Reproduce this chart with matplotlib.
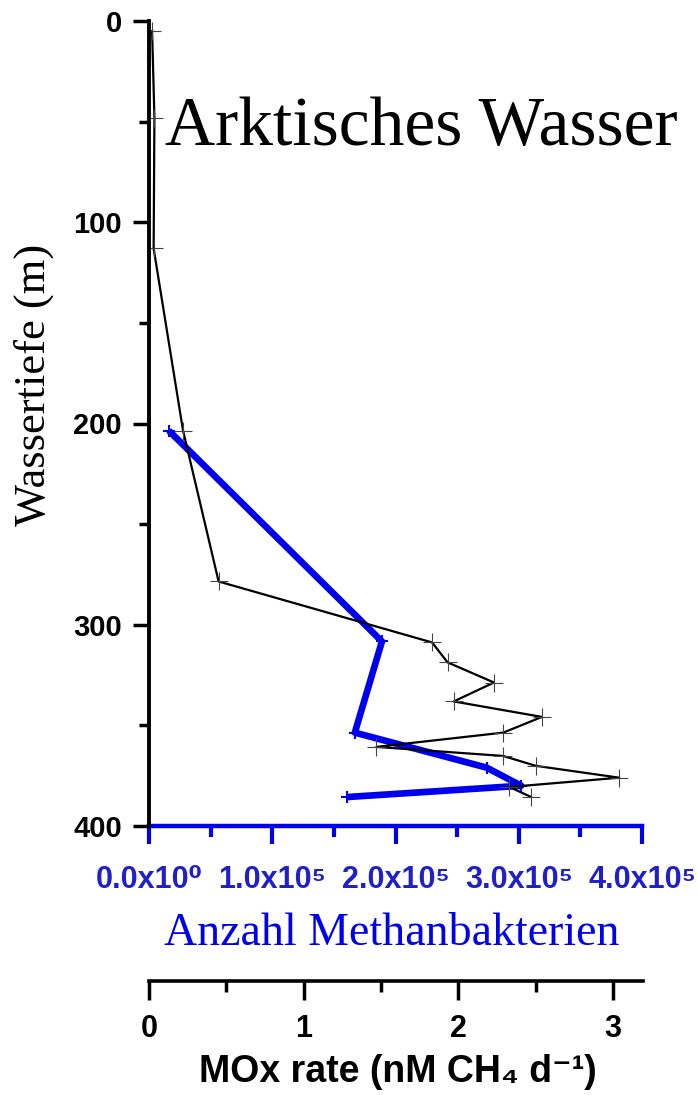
import matplotlib
matplotlib.use("Agg")
import matplotlib.pyplot as plt
from matplotlib.ticker import FixedLocator

plt.rcParams['font.family'] = ['Liberation Sans', 'DejaVu Sans']

# MOx rate profile (black)
mox_depth = [5, 48, 113, 203.5, 278.5, 308.8, 318.7, 328.7, 338.1, 345.8,
             353.6, 360.7, 365.2, 370.1, 376.0, 380.6, 385.6]
mox_rate = [0.02, 0.035, 0.03, 0.22, 0.45, 1.83, 1.93, 2.23, 1.97, 2.54,
            2.29, 1.47, 2.29, 2.50, 3.04, 2.33, 2.47]

# methanotroph counts (blue)
bac_depth = [203.5, 308.3, 353.6, 371.0, 380.0, 385.6]
bac_count = [0.16e5, 1.89e5, 1.67e5, 2.74e5, 3.02e5, 1.61e5]

depth_ticks = [0, 100, 200, 300, 400]
bac_ticks = [0, 1e5, 2e5, 3e5, 4e5]
bac_labels = ['0.0x10\u2070', '1.0x10\u2075', '2.0x10\u2075', '3.0x10\u2075', '4.0x10\u2075']
mox_ticks = [0, 1, 2, 3]

W, H = 697, 1095
fig = plt.figure(figsize=(W / 100, H / 100), dpi=100)
ax = fig.add_axes([149 / W, 269 / H, 494 / W, 805 / H])
ax2 = ax.twiny()

# black MOx curve on top
ax.set_zorder(2)
ax2.set_zorder(1)
ax.patch.set_visible(False)

ax.plot(mox_rate, mox_depth, color='black', lw=1.6, marker='+', ms=13,
        mew=0.8, mec='#444444')
ax2.plot(bac_count, bac_depth, color='#0000ee', lw=4.8, marker='+', ms=9,
         mew=1.5, solid_capstyle='butt')

ax.set_ylim(400, 0)
ax.set_xlim(0, 494 / 154.7)
ax2.set_xlim(0, 4.0e5 * 494 / 493)

for s in ['top', 'right']:
    ax.spines[s].set_visible(False)
for s in ['top', 'right', 'left']:
    ax2.spines[s].set_visible(False)

ax.spines['left'].set_linewidth(2.8)
ax.spines['bottom'].set_linewidth(2.6)
ax.spines['bottom'].set_position(('outward', 155 * 0.72))
ax.spines['bottom'].set_bounds(0, 494 / 154.7)

ax.yaxis.set_major_locator(FixedLocator(depth_ticks))
ax.yaxis.set_minor_locator(FixedLocator([50, 150, 250, 350]))
ax.tick_params(axis='y', which='major', length=11.5, width=2.5, pad=8,
               labelsize=21)
ax.tick_params(axis='y', which='minor', length=7, width=2.5)
for t in ax.get_yticklabels():
    t.set_fontweight('bold')

ax.xaxis.set_major_locator(FixedLocator(mox_ticks))
ax.xaxis.set_minor_locator(FixedLocator([0.5, 1.5, 2.5]))
ax.tick_params(axis='x', which='major', length=13.5, width=2.5, pad=10,
               labelsize=22)
ax.tick_params(axis='x', which='minor', length=8, width=2.5)
for t in ax.get_xticklabels():
    t.set_fontweight('bold')

ax2.xaxis.set_ticks_position('bottom')
ax2.xaxis.set_label_position('bottom')
ax2.spines['bottom'].set_visible(True)
ax2.spines['bottom'].set_color('#0000ee')
ax2.spines['bottom'].set_linewidth(3.2)
ax2.spines['bottom'].set_bounds(0, 4.0e5)
ax2.xaxis.set_major_locator(FixedLocator(bac_ticks))
ax2.xaxis.set_minor_locator(FixedLocator([0.5e5, 1.5e5, 2.5e5, 3.5e5]))
ax2.set_xticklabels(bac_labels)
ax2.tick_params(axis='x', which='major', length=13, width=3, color='#0000ee',
                labelcolor='#2020c8', labelsize=22, pad=15)
ax2.tick_params(axis='x', which='minor', length=8, width=3, color='#0000ee')
for t in ax2.get_xticklabels():
    t.set_fontweight('bold')

fig.text(398 / W, 1 - 1072 / H, 'MOx rate (nM CH\u2084 d\u207b\u00b9)',
         ha='center', va='center', fontsize=27, fontweight='bold')
fig.text(164 / W, 1 - 945 / H, 'Anzahl Methanbakterien', ha='left',
         va='baseline', fontsize=33, color='#0000ee', family='Liberation Serif')
fig.text(165 / W, 1 - 145 / H, 'Arktisches Wasser', ha='left',
         va='baseline', fontsize=50, color='black', family='Liberation Serif')
fig.text(34 / W, 1 - 385 / H, 'Wassertiefe (m)', ha='center', va='center',
         rotation=90, fontsize=32, family='Liberation Serif')

fig.savefig('out.png', dpi=100)
